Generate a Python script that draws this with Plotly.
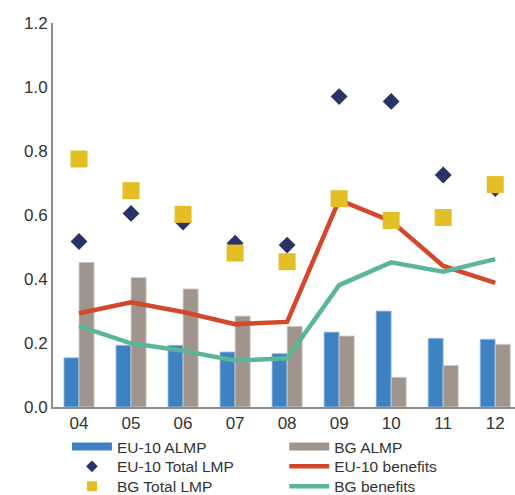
import plotly.graph_objects as go

years = ["04", "05", "06", "07", "08", "09", "10", "11", "12"]

eu10_almp = [0.154, 0.193, 0.193, 0.172, 0.167, 0.234, 0.300, 0.215, 0.212]
bg_almp = [0.452, 0.405, 0.369, 0.284, 0.252, 0.222, 0.093, 0.130, 0.196]
eu10_total_lmp = [0.517, 0.605, 0.578, 0.512, 0.506, 0.970, 0.955, 0.725, 0.683]
bg_total_lmp = [0.775, 0.676, 0.602, 0.481, 0.454, 0.651, 0.583, 0.592, 0.695]
eu10_benefits = [0.293, 0.327, 0.297, 0.259, 0.266, 0.647, 0.581, 0.441, 0.388]
bg_benefits = [0.253, 0.199, 0.176, 0.145, 0.152, 0.381, 0.452, 0.423, 0.462]

font = "Liberation Sans, Arial, sans-serif"
text_color = "#333333"
axis_color = "#8C8C8C"

blue = "#3E82C4"
grey = "#A0958D"
navy = "#2B3266"
red = "#D4472A"
yellow = "#E3BE25"
green = "#5BB598"

fig = go.Figure()

# actual marks (legend drawn separately with smaller symbols)
fig.add_trace(go.Bar(
    x=years, y=eu10_almp, name="EU-10 ALMP", showlegend=False,
    marker=dict(color=blue, line=dict(color="#A9C8E6", width=0.8)),
))
fig.add_trace(go.Bar(
    x=years, y=bg_almp, name="BG ALMP", showlegend=False,
    marker=dict(color=grey, line=dict(color="#D6D0CB", width=0.8)),
))
fig.add_trace(go.Scatter(
    x=years, y=eu10_benefits, name="EU-10 benefits", mode="lines", showlegend=False,
    line=dict(color=red, width=4.5),
))
fig.add_trace(go.Scatter(
    x=years, y=bg_benefits, name="BG benefits", mode="lines", showlegend=False,
    line=dict(color=green, width=4.5),
))
fig.add_trace(go.Scatter(
    x=years, y=eu10_total_lmp, name="EU-10 Total LMP", mode="markers", showlegend=False,
    marker=dict(symbol="diamond", size=13, color=navy),
))
fig.add_trace(go.Scatter(
    x=years, y=bg_total_lmp, name="BG Total LMP", mode="markers", showlegend=False,
    marker=dict(symbol="square", size=17, color=yellow),
))

# legend entries: one small legend per entry, laid out as a 2-column grid
legend_items = [
    ("EU-10 ALMP", dict(mode="lines", line=dict(color=blue, width=8))),
    ("BG ALMP", dict(mode="lines", line=dict(color=grey, width=8))),
    ("EU-10 Total LMP", dict(mode="markers", marker=dict(symbol="diamond", size=9, color=navy))),
    ("EU-10 benefits", dict(mode="lines", line=dict(color=red, width=4.5))),
    ("BG Total LMP", dict(mode="markers", marker=dict(symbol="square", size=10, color=yellow))),
    ("BG benefits", dict(mode="lines", line=dict(color=green, width=4.5))),
]
col_x = [0.130, 0.552]
row_y = [0.097, 0.057, 0.017]

legends = {}
for i, (name, style) in enumerate(legend_items):
    key = "legend" if i == 0 else f"legend{i + 1}"
    fig.add_trace(go.Scatter(x=[None], y=[None], name=name, showlegend=True,
                             legend=key, **style))
    legends[key] = dict(
        xref="container", yref="container",
        x=col_x[i % 2], xanchor="left",
        y=row_y[i // 2], yanchor="middle",
        itemwidth=40, bgcolor="rgba(0,0,0,0)",
        font=dict(family=font, size=15.5, color=text_color),
    )

fig.update_xaxes(
    type="category", range=[-0.5, 8.38], automargin=False,
    showline=True, linecolor=axis_color, linewidth=2,
    ticks="", showgrid=False,
    tickfont=dict(family=font, size=17, color=text_color),
)
fig.update_yaxes(
    range=[0, 1.2], dtick=0.2, tickformat=".1f", automargin=False,
    showline=True, linecolor=axis_color, linewidth=2,
    ticks="", showgrid=False, zeroline=False,
    tickfont=dict(family=font, size=17, color=text_color),
)

fig.update_layout(
    width=515, height=495,
    margin=dict(l=53, r=0, t=23, b=88, autoexpand=False),
    paper_bgcolor="white", plot_bgcolor="white",
    barmode="group", bargap=0.42, bargroupgap=0,
    showlegend=True,
    **legends,
)

fig.write_html(
    "out.html",
    config={"displayModeBar": False},
    post_script="document.body.style.margin='0';",
)
